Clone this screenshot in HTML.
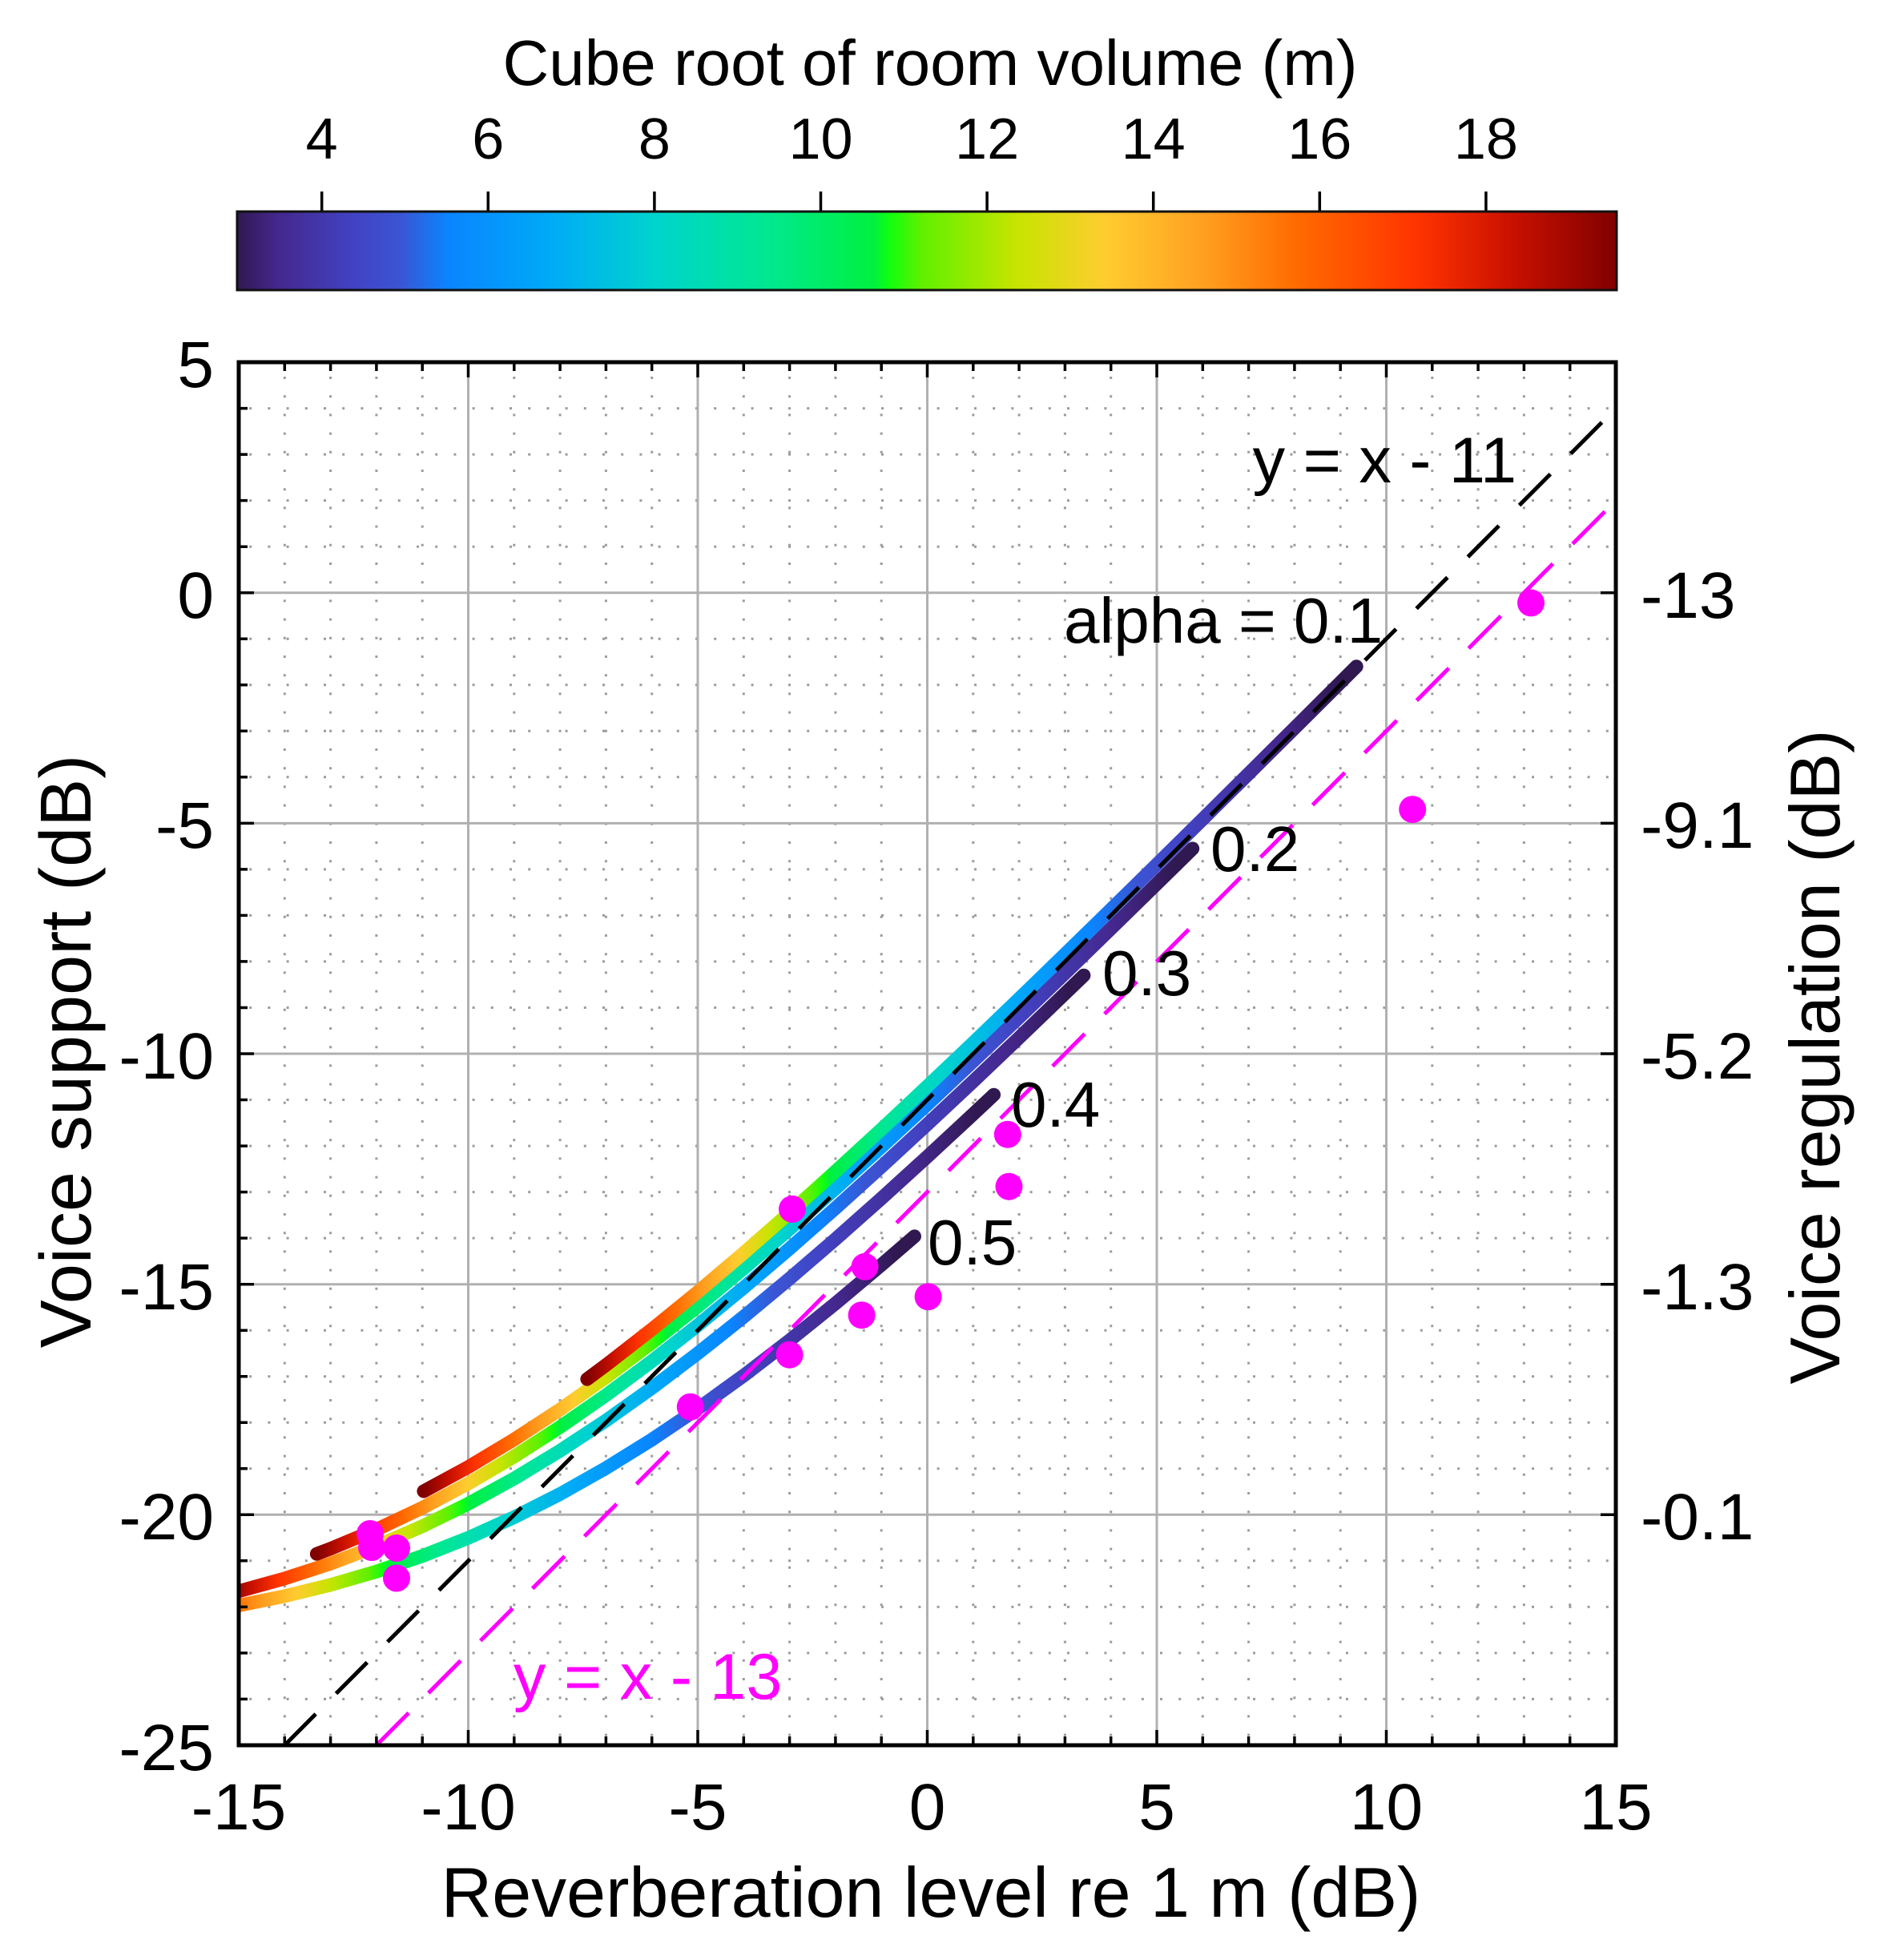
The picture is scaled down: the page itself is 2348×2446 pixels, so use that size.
<!DOCTYPE html>
<html><head><meta charset="utf-8"><style>
html,body{margin:0;padding:0;background:#fff;}
svg{display:block;}
text{font-family:"Liberation Sans",Arial,Helvetica,sans-serif;fill:#000;}
</style></head><body>
<svg width="2348" height="2446" viewBox="0 0 2348 2446" xmlns="http://www.w3.org/2000/svg">
<defs>
<linearGradient id="cb" gradientUnits="userSpaceOnUse" x1="295" y1="0" x2="2019" y2="0">
<stop offset="0" stop-color="#301850"/><stop offset="0.029" stop-color="#44278c"/><stop offset="0.0841" stop-color="#4242c2"/><stop offset="0.1189" stop-color="#3a55d4"/><stop offset="0.1537" stop-color="#0a85ff"/><stop offset="0.2233" stop-color="#00a8f8"/><stop offset="0.3045" stop-color="#00d4cc"/><stop offset="0.3857" stop-color="#00e890"/><stop offset="0.4611" stop-color="#00f040"/><stop offset="0.4727" stop-color="#10ff10"/><stop offset="0.4959" stop-color="#60f000"/><stop offset="0.5655" stop-color="#c8e400"/><stop offset="0.6293" stop-color="#ffcc30"/><stop offset="0.6995" stop-color="#ffa020"/><stop offset="0.7686" stop-color="#ff6a00"/><stop offset="0.8556" stop-color="#ff3300"/><stop offset="0.9252" stop-color="#c81000"/><stop offset="1" stop-color="#800000"/>
</linearGradient>
<linearGradient id="g1" gradientUnits="userSpaceOnUse" x1="732.9" y1="0" x2="1671.5" y2="0">
<stop offset="0" stop-color="#800000"/><stop offset="0.0342" stop-color="#c81000"/><stop offset="0.0689" stop-color="#ff3300"/><stop offset="0.1154" stop-color="#ff6a00"/><stop offset="0.1563" stop-color="#ffa020"/><stop offset="0.1997" stop-color="#ffcc30"/><stop offset="0.243" stop-color="#c8e400"/><stop offset="0.2954" stop-color="#60f000"/><stop offset="0.3144" stop-color="#10ff10"/><stop offset="0.3236" stop-color="#00f040"/><stop offset="0.39" stop-color="#00e890"/><stop offset="0.4725" stop-color="#00d4cc"/><stop offset="0.5702" stop-color="#00a8f8"/><stop offset="0.6704" stop-color="#0a85ff"/><stop offset="0.729" stop-color="#3a55d4"/><stop offset="0.7948" stop-color="#4242c2"/><stop offset="0.92" stop-color="#44278c"/><stop offset="1" stop-color="#301850"/>
</linearGradient>
<linearGradient id="g2" gradientUnits="userSpaceOnUse" x1="528.9" y1="0" x2="1467.5" y2="0">
<stop offset="0" stop-color="#800000"/><stop offset="0.0342" stop-color="#c81000"/><stop offset="0.0689" stop-color="#ff3300"/><stop offset="0.1154" stop-color="#ff6a00"/><stop offset="0.1563" stop-color="#ffa020"/><stop offset="0.1997" stop-color="#ffcc30"/><stop offset="0.243" stop-color="#c8e400"/><stop offset="0.2954" stop-color="#60f000"/><stop offset="0.3144" stop-color="#10ff10"/><stop offset="0.3236" stop-color="#00f040"/><stop offset="0.39" stop-color="#00e890"/><stop offset="0.4725" stop-color="#00d4cc"/><stop offset="0.5702" stop-color="#00a8f8"/><stop offset="0.6704" stop-color="#0a85ff"/><stop offset="0.729" stop-color="#3a55d4"/><stop offset="0.7948" stop-color="#4242c2"/><stop offset="0.92" stop-color="#44278c"/><stop offset="1" stop-color="#301850"/>
</linearGradient>
<linearGradient id="g3" gradientUnits="userSpaceOnUse" x1="395.4" y1="0" x2="1334" y2="0">
<stop offset="0" stop-color="#800000"/><stop offset="0.0342" stop-color="#c81000"/><stop offset="0.0689" stop-color="#ff3300"/><stop offset="0.1154" stop-color="#ff6a00"/><stop offset="0.1563" stop-color="#ffa020"/><stop offset="0.1997" stop-color="#ffcc30"/><stop offset="0.243" stop-color="#c8e400"/><stop offset="0.2954" stop-color="#60f000"/><stop offset="0.3144" stop-color="#10ff10"/><stop offset="0.3236" stop-color="#00f040"/><stop offset="0.39" stop-color="#00e890"/><stop offset="0.4725" stop-color="#00d4cc"/><stop offset="0.5702" stop-color="#00a8f8"/><stop offset="0.6704" stop-color="#0a85ff"/><stop offset="0.729" stop-color="#3a55d4"/><stop offset="0.7948" stop-color="#4242c2"/><stop offset="0.92" stop-color="#44278c"/><stop offset="1" stop-color="#301850"/>
</linearGradient>
<linearGradient id="g4" gradientUnits="userSpaceOnUse" x1="282" y1="0" x2="1220.6" y2="0">
<stop offset="0" stop-color="#800000"/><stop offset="0.0342" stop-color="#c81000"/><stop offset="0.0689" stop-color="#ff3300"/><stop offset="0.1154" stop-color="#ff6a00"/><stop offset="0.1563" stop-color="#ffa020"/><stop offset="0.1997" stop-color="#ffcc30"/><stop offset="0.243" stop-color="#c8e400"/><stop offset="0.2954" stop-color="#60f000"/><stop offset="0.3144" stop-color="#10ff10"/><stop offset="0.3236" stop-color="#00f040"/><stop offset="0.39" stop-color="#00e890"/><stop offset="0.4725" stop-color="#00d4cc"/><stop offset="0.5702" stop-color="#00a8f8"/><stop offset="0.6704" stop-color="#0a85ff"/><stop offset="0.729" stop-color="#3a55d4"/><stop offset="0.7948" stop-color="#4242c2"/><stop offset="0.92" stop-color="#44278c"/><stop offset="1" stop-color="#301850"/>
</linearGradient>
<linearGradient id="g5" gradientUnits="userSpaceOnUse" x1="182.8" y1="0" x2="1121.4" y2="0">
<stop offset="0" stop-color="#800000"/><stop offset="0.0342" stop-color="#c81000"/><stop offset="0.0689" stop-color="#ff3300"/><stop offset="0.1154" stop-color="#ff6a00"/><stop offset="0.1563" stop-color="#ffa020"/><stop offset="0.1997" stop-color="#ffcc30"/><stop offset="0.243" stop-color="#c8e400"/><stop offset="0.2954" stop-color="#60f000"/><stop offset="0.3144" stop-color="#10ff10"/><stop offset="0.3236" stop-color="#00f040"/><stop offset="0.39" stop-color="#00e890"/><stop offset="0.4725" stop-color="#00d4cc"/><stop offset="0.5702" stop-color="#00a8f8"/><stop offset="0.6704" stop-color="#0a85ff"/><stop offset="0.729" stop-color="#3a55d4"/><stop offset="0.7948" stop-color="#4242c2"/><stop offset="0.92" stop-color="#44278c"/><stop offset="1" stop-color="#301850"/>
</linearGradient>
<clipPath id="pc"><rect x="298" y="452" width="1719" height="1726"/></clipPath>
</defs>

<!-- Colorbar -->
<text x="1161" y="106" font-size="80" text-anchor="middle">Cube root of room volume (m)</text>
<g font-size="72" text-anchor="middle">
<text x="401.7" y="198">4</text><text x="609.3" y="198">6</text><text x="816.9" y="198">8</text><text x="1024.5" y="198">10</text><text x="1232.1" y="198">12</text><text x="1439.7" y="198">14</text><text x="1647.3" y="198">16</text><text x="1854.9" y="198">18</text>
</g>
<path d="M401.7 239V263M609.3 239V263M816.9 239V263M1024.5 239V263M1232.1 239V263M1439.7 239V263M1647.3 239V263M1854.9 239V263" stroke="#000" stroke-width="3.5" fill="none"/>
<rect x="296" y="264" width="1722" height="98" fill="url(#cb)" stroke="#111" stroke-width="3"/>

<!-- Minor dotted grid -->
<path d="M355.3 452V2178M412.6 452V2178M469.9 452V2178M527.2 452V2178M641.8 452V2178M699.1 452V2178M756.4 452V2178M813.7 452V2178M928.3 452V2178M985.6 452V2178M1042.9 452V2178M1100.2 452V2178M1214.8 452V2178M1272.1 452V2178M1329.4 452V2178M1386.7 452V2178M1501.3 452V2178M1558.6 452V2178M1615.9 452V2178M1673.2 452V2178M1787.8 452V2178M1845.1 452V2178M1902.4 452V2178M1959.7 452V2178" stroke="#9c9c9c" stroke-width="3" stroke-dasharray="3 20.2" stroke-dashoffset="5.2" fill="none"/>
<path d="M298 509.6H2017M298 567.1H2017M298 624.6H2017M298 682.2H2017M298 797.2H2017M298 854.8H2017M298 912.3H2017M298 969.8H2017M298 1084.9H2017M298 1142.4H2017M298 1199.9H2017M298 1257.5H2017M298 1372.5H2017M298 1430.1H2017M298 1487.6H2017M298 1545.1H2017M298 1660.2H2017M298 1717.7H2017M298 1775.2H2017M298 1832.8H2017M298 1947.8H2017M298 2005.4H2017M298 2062.9H2017M298 2120.4H2017" stroke="#9c9c9c" stroke-width="3" stroke-dasharray="3 20.2" stroke-dashoffset="10" fill="none"/>
<!-- Major grid -->
<path d="M584.5 452V2178M871 452V2178M1157.5 452V2178M1444 452V2178M1730.5 452V2178M298 739.7H2017M298 1027.4H2017M298 1315H2017M298 1602.7H2017M298 1890.3H2017" stroke="#b0b0b0" stroke-width="3" fill="none"/>

<g clip-path="url(#pc)" fill="none" stroke-linecap="round" stroke-linejoin="round" stroke-width="17">
<polyline stroke="url(#g5)" points="280.8,2006.7 298,2003.6 355.3,1991.9 412.6,1977.9 469.9,1961.2 527.2,1941.8 584.5,1919.2 641.8,1893.5 699.1,1864.5 756.4,1832.1 813.7,1796.6 871,1758 928.3,1716.7 985.6,1672.8 1042.9,1626.6 1100.2,1578.5 1141.5,1542.9"/>
<polyline stroke="url(#g4)" points="282,1989.8 298,1985.8 355.3,1969.9 412.6,1951.3 469.9,1929.6 527.2,1904.7 584.5,1876.6 641.8,1845.2 699.1,1810.5 756.4,1772.8 813.7,1732.2 871,1688.9 928.3,1643.3 985.6,1595.7 1042.9,1546.4 1100.2,1495.6 1157.5,1443.5 1214.8,1390.4 1240.6,1366.2"/>
<polyline stroke="url(#g3)" points="395.4,1939.2 412.6,1932.7 469.9,1908.8 527.2,1881.7 584.5,1851.4 641.8,1817.7 699.1,1780.9 756.4,1741.2 813.7,1698.7 871,1653.9 928.3,1606.9 985.6,1558.1 1042.9,1507.7 1100.2,1455.9 1157.5,1403.1 1214.8,1349.5 1272.1,1295 1329.4,1239.9 1352.9,1217.2"/>
<polyline stroke="url(#g2)" points="528.9,1861 584.5,1830.8 641.8,1796.4 699.1,1759 756.4,1718.7 813.7,1675.7 871,1630.4 928.3,1583 985.6,1533.8 1042.9,1483.2 1100.2,1431.2 1157.5,1378.2 1214.8,1324.3 1272.1,1269.7 1329.4,1214.6 1386.7,1158.9 1444,1102.9 1488.7,1059"/>
<polyline stroke="url(#g1)" points="732.9,1721.1 756.4,1703.6 813.7,1659 871,1612.3 928.3,1563.8 985.6,1513.5 1042.9,1462 1100.2,1409.4 1157.5,1355.7 1214.8,1301.4 1272.1,1246.4 1329.4,1190.9 1386.7,1135 1444,1078.8 1501.3,1022.3 1558.6,965.6 1615.9,908.7 1673.2,851.7 1693.2,831.7"/>
<line x1="355.3" y1="2178" x2="2017" y2="509.6" stroke="#000" stroke-width="5" stroke-dasharray="55 36" stroke-linecap="butt"/>
<line x1="469.9" y1="2178" x2="2017" y2="624.6" stroke="#ff00ff" stroke-width="5" stroke-dasharray="57 35" stroke-linecap="butt"/>
</g>

<!-- data points -->
<g fill="#ff00ff">
<circle cx="1911" cy="752.4" r="17"/><circle cx="1763.2" cy="1010.1" r="17"/><circle cx="1257.8" cy="1415.7" r="17"/><circle cx="1259.5" cy="1480.7" r="17"/><circle cx="989" cy="1508.9" r="17"/><circle cx="1079.6" cy="1580.8" r="17"/><circle cx="1158.6" cy="1618.2" r="17"/><circle cx="1075.6" cy="1641.2" r="17"/><circle cx="985.6" cy="1690.7" r="17"/><circle cx="861.8" cy="1755.7" r="17"/><circle cx="462" cy="1914" r="17"/><circle cx="464" cy="1931" r="17"/><circle cx="495" cy="1932" r="17"/><circle cx="495" cy="1969.5" r="17"/>
</g>

<!-- Ticks -->
<path d="M355.3 2178v-11M412.6 2178v-11M469.9 2178v-11M527.2 2178v-11M641.8 2178v-11M699.1 2178v-11M756.4 2178v-11M813.7 2178v-11M928.3 2178v-11M985.6 2178v-11M1042.9 2178v-11M1100.2 2178v-11M1214.8 2178v-11M1272.1 2178v-11M1329.4 2178v-11M1386.7 2178v-11M1501.3 2178v-11M1558.6 2178v-11M1615.9 2178v-11M1673.2 2178v-11M1787.8 2178v-11M1845.1 2178v-11M1902.4 2178v-11M1959.7 2178v-11M584.5 2178v-19M871 2178v-19M1157.5 2178v-19M1444 2178v-19M1730.5 2178v-19
M355.3 452v11M412.6 452v11M469.9 452v11M527.2 452v11M641.8 452v11M699.1 452v11M756.4 452v11M813.7 452v11M928.3 452v11M985.6 452v11M1042.9 452v11M1100.2 452v11M1214.8 452v11M1272.1 452v11M1329.4 452v11M1386.7 452v11M1501.3 452v11M1558.6 452v11M1615.9 452v11M1673.2 452v11M1787.8 452v11M1845.1 452v11M1902.4 452v11M1959.7 452v11M584.5 452v19M871 452v19M1157.5 452v19M1444 452v19M1730.5 452v19
M298 509.6h11M298 567.1h11M298 624.6h11M298 682.2h11M298 797.2h11M298 854.8h11M298 912.3h11M298 969.8h11M298 1084.9h11M298 1142.4h11M298 1199.9h11M298 1257.5h11M298 1372.5h11M298 1430.1h11M298 1487.6h11M298 1545.1h11M298 1660.2h11M298 1717.7h11M298 1775.2h11M298 1832.8h11M298 1947.8h11M298 2005.4h11M298 2062.9h11M298 2120.4h11M298 739.7h19M298 1027.4h19M298 1315h19M298 1602.7h19M298 1890.3h19
M2017 739.7h-19M2017 1027.4h-19M2017 1315h-19M2017 1602.7h-19M2017 1890.3h-19" stroke="#000" stroke-width="3.5" fill="none"/>
<!-- Axes frame -->
<rect x="298" y="452" width="1719" height="1726" fill="none" stroke="#000" stroke-width="5"/>

<!-- Tick labels -->
<g font-size="82" text-anchor="end">
<text x="267" y="483">5</text><text x="267" y="771">0</text><text x="267" y="1058">-5</text><text x="267" y="1346">-10</text><text x="267" y="1634">-15</text><text x="267" y="1921">-20</text><text x="267" y="2209">-25</text>
</g>
<g font-size="82" text-anchor="start">
<text x="2048" y="771">-13</text><text x="2048" y="1058">-9.1</text><text x="2048" y="1346">-5.2</text><text x="2048" y="1634">-1.3</text><text x="2048" y="1921">-0.1</text>
</g>
<g font-size="82" text-anchor="middle">
<text x="298" y="2283">-15</text><text x="584.5" y="2283">-10</text><text x="871" y="2283">-5</text><text x="1157.5" y="2283">0</text><text x="1444" y="2283">5</text><text x="1730.5" y="2283">10</text><text x="2017" y="2283">15</text>
</g>

<!-- Axis labels -->
<text x="1162" y="2392" font-size="88" text-anchor="middle">Reverberation level re 1 m (dB)</text>
<text transform="translate(113,1312) rotate(-90)" font-size="90" text-anchor="middle">Voice support (dB)</text>
<text transform="translate(2296,1319) rotate(-90)" font-size="88" text-anchor="middle">Voice regulation (dB)</text>

<!-- Annotations -->
<text x="1893" y="602" font-size="81" text-anchor="end">y = x - 11</text>
<text x="1328" y="802" font-size="80">alpha = 0.1</text>
<text x="1511" y="1087" font-size="80">0.2</text>
<text x="1376" y="1242" font-size="80">0.3</text>
<text x="1262" y="1406" font-size="80">0.4</text>
<text x="1158" y="1578" font-size="80">0.5</text>
<text x="641" y="2120" font-size="81" style="fill:#ff00ff">y = x - 13</text>
</svg>
</body></html>
